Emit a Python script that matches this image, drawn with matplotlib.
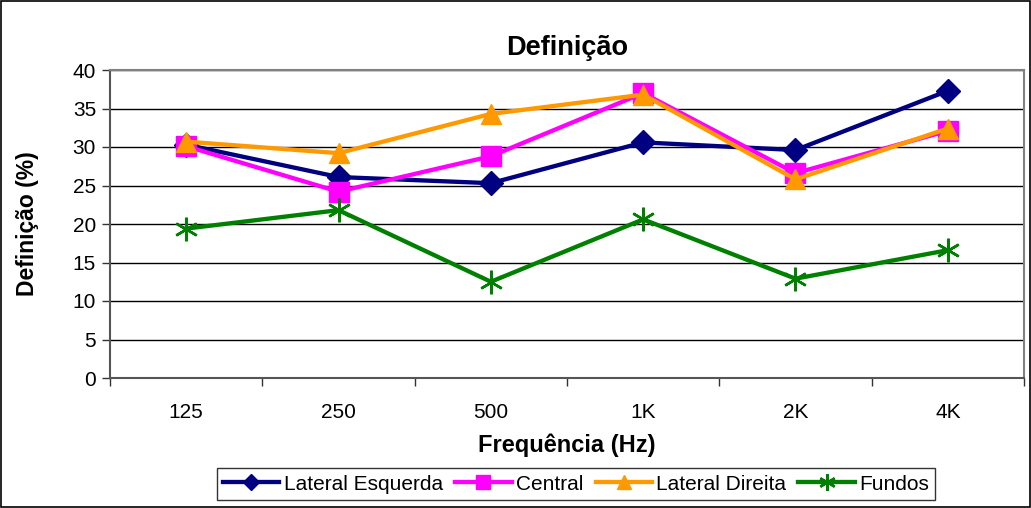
import matplotlib
matplotlib.use("Agg")
import matplotlib.pyplot as plt
from matplotlib.patches import Rectangle

plt.rcParams['font.family'] = ['Liberation Sans', 'DejaVu Sans']

categories = ['125', '250', '500', '1K', '2K', '4K']
lateral_esquerda = [30.3, 26.1, 25.3, 30.6, 29.6, 37.3]
central = [30.1, 24.2, 28.8, 37.0, 26.6, 32.1]
lateral_direita = [30.7, 29.2, 34.3, 36.8, 25.8, 32.4]
fundos = [19.4, 21.8, 12.5, 20.6, 12.9, 16.6]
yticks = [0, 5, 10, 15, 20, 25, 30, 35, 40]

fig = plt.figure(figsize=(10.31, 5.08), dpi=100)
ax = fig.add_axes([110/1031, 1-378/508, (1024-110)/1031, (378-70)/508])

x = list(range(len(categories)))
series = [
    ('Lateral Esquerda', lateral_esquerda, '#000080', 'D', 12),
    ('Central', central, '#FF00FF', 's', 14),
    ('Lateral Direita', lateral_direita, '#FF9900', '^', 15),
    ('Fundos', fundos, '#008000', (6, 2, 0), 17),
]
for name, vals, col, mk, ms in series:
    ax.plot(x, vals, color=col, lw=3.1, marker=mk, ms=ms, mfc=col, mec=col,
            mew=1.8 if mk == (6, 2, 0) else 1, label=name, clip_on=False)

ax.set_xlim(-0.5, len(categories) - 0.5)
ax.set_ylim(0, 40)
ax.set_yticks(yticks)
ax.set_yticklabels([str(v) for v in yticks], fontsize=15)
ax.set_xticks(x)
ax.set_xticklabels(categories, fontsize=15)
ax.tick_params(axis='x', length=0, pad=18)
ax.set_xticks([i - 0.5 for i in range(len(categories) + 1)], minor=True)
ax.tick_params(axis='x', which='minor', length=6, width=1, color='#333333', direction='out')
ax.tick_params(axis='y', length=6, width=1, color='#333333', direction='out', pad=4)
ax.yaxis.grid(True, color='black', lw=1)
ax.set_axisbelow(True)
for s in ['top', 'right']:
    ax.spines[s].set_color('#808080')
    ax.spines[s].set_linewidth(1.5)
for s in ['left', 'bottom']:
    ax.spines[s].set_color('#555555')
    ax.spines[s].set_linewidth(1.5)

ax.set_title('Definição', fontsize=19.5, fontweight='bold', pad=11)
ax.set_ylabel('Definição (%)', fontsize=16.5, fontweight='bold', labelpad=24)
ax.set_xlabel('Frequência (Hz)', fontsize=17, fontweight='bold', labelpad=8)

leg = fig.legend(loc='center', bbox_to_anchor=(576/1031, 1-484/508), ncol=4,
                 fontsize=15, frameon=True, fancybox=False, edgecolor='black',
                 handlelength=2.7, columnspacing=0.6, handletextpad=0.2,
                 borderpad=0.3, markerscale=0.7, borderaxespad=0)
leg.get_frame().set_linewidth(1.0)

fig.patches.append(Rectangle((0.001, 0.001), 0.998, 0.997, transform=fig.transFigure,
                             fill=False, edgecolor='black', lw=1.2))

fig.savefig('out.png', dpi=100)
